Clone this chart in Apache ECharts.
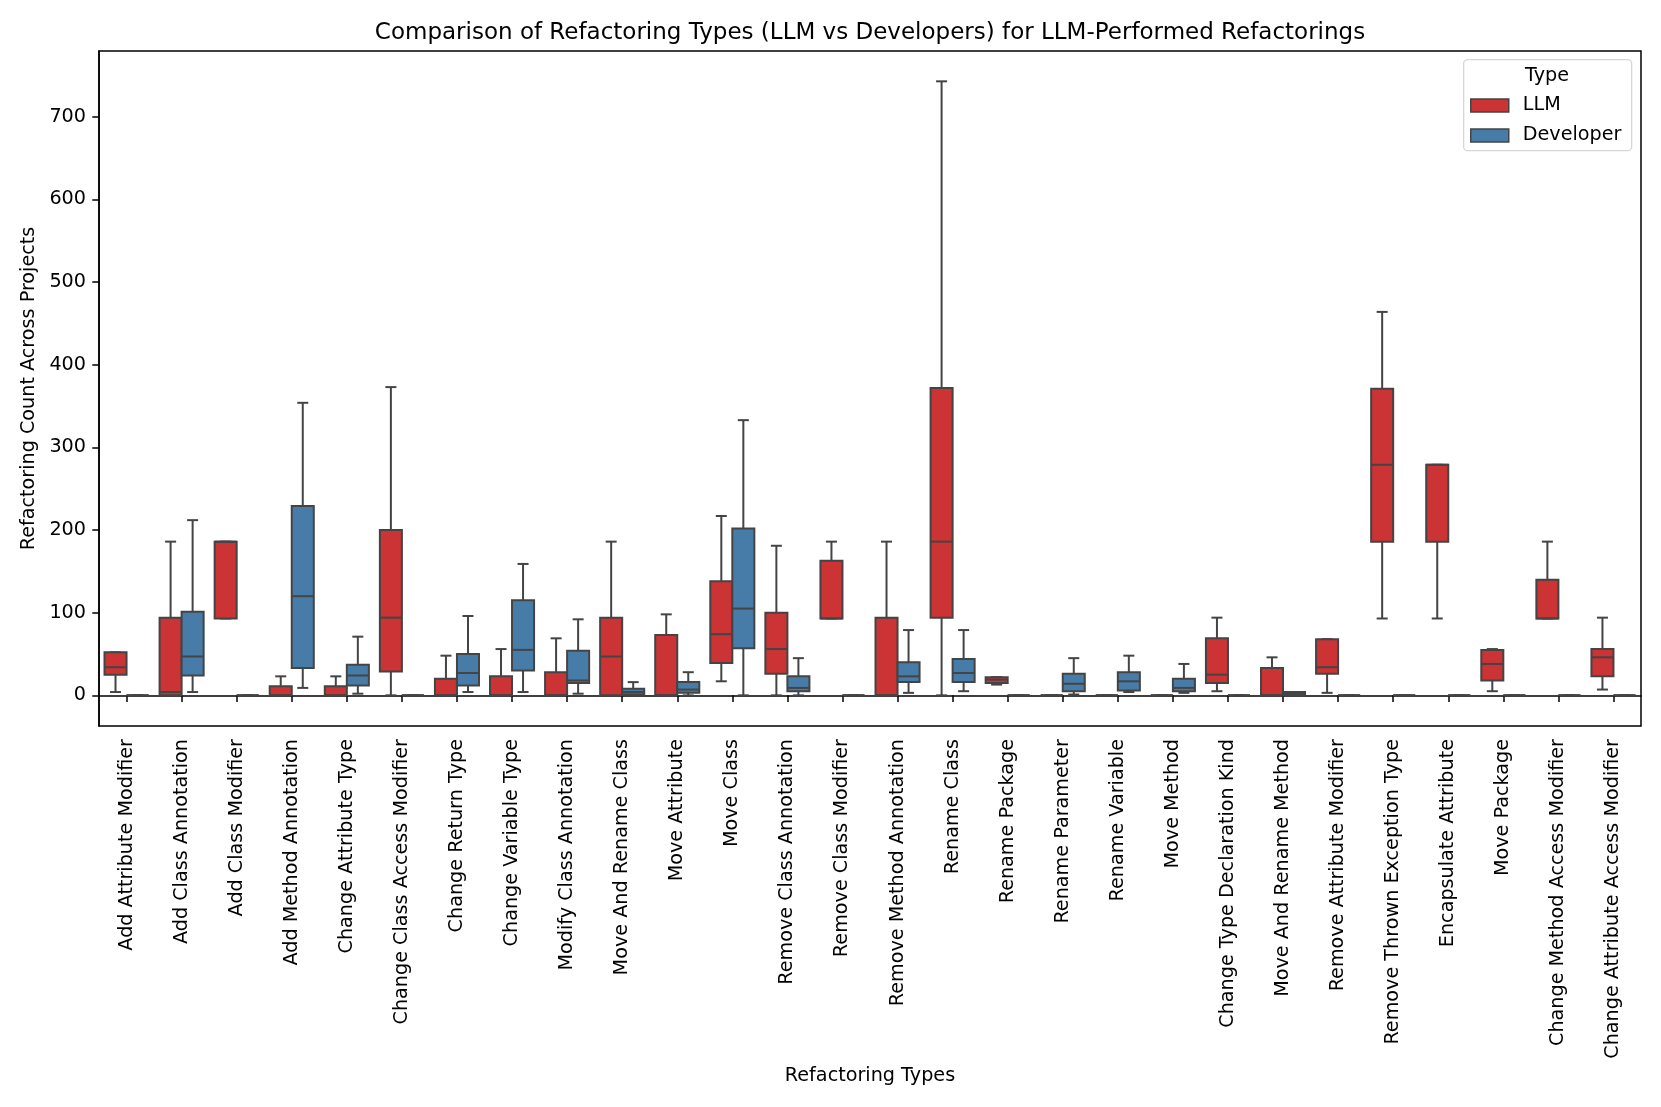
<!DOCTYPE html>
<html>
<head>
<meta charset="utf-8">
<script src="https://cdn.jsdelivr.net/npm/echarts@6/dist/echarts.min.js"></script>
<style>
html, body { margin: 0; padding: 0; background: #fff; }
#chart { width: 1661px; height: 1107px; }
</style>
</head>
<body>
<div id="chart"></div>
<script>
// ---- data ----
const categories = [
  "Add Attribute Modifier", "Add Class Annotation", "Add Class Modifier", "Add Method Annotation",
  "Change Attribute Type", "Change Class Access Modifier", "Change Return Type", "Change Variable Type",
  "Modify Class Annotation", "Move And Rename Class", "Move Attribute", "Move Class",
  "Remove Class Annotation", "Remove Class Modifier", "Remove Method Annotation", "Rename Class",
  "Rename Package", "Rename Parameter", "Rename Variable", "Move Method",
  "Change Type Declaration Kind", "Move And Rename Method", "Remove Attribute Modifier",
  "Remove Thrown Exception Type", "Encapsulate Attribute", "Move Package",
  "Change Method Access Modifier", "Change Attribute Access Modifier"
];
// [min (lower whisker), Q1, median, Q3, max (upper whisker)]
const llmBoxes = [
  [4, 25, 34, 52, 52],
  [0, 0, 4, 94, 186],
  [93, 93, 186, 186, 186],
  [0, 0, 0, 11, 23],
  [0, 0, 0, 11, 23],
  [0, 29, 94, 200, 373],
  [0, 0, 0, 20, 48],
  [0, 0, 0, 23, 56],
  [0, 0, 0, 28, 69],
  [0, 0, 47, 94, 186],
  [0, 0, 0, 73, 98],
  [17, 39, 74, 138, 217],
  [0, 26, 56, 100, 181],
  [93, 93, 93, 163, 186],
  [0, 0, 0, 94, 186],
  [0, 94, 186, 372, 743],
  [13, 15, 19, 22, 22],
  [0, 0, 0, 0, 0],
  [0, 0, 0, 0, 0],
  [0, 0, 0, 0, 0],
  [5, 15, 25, 69, 94],
  [0, 0, 0, 33, 46],
  [3, 26, 34, 68, 68],
  [93, 186, 279, 371, 464],
  [93, 186, 279, 279, 279],
  [5, 18, 38, 55, 56],
  [93, 93, 93, 140, 186],
  [7, 23, 46, 56, 94]
];
const devBoxes = [
  [0, 0, 0, 0, 0],
  [4, 24, 47, 101, 212],
  [0, 0, 0, 0, 0],
  [9, 33, 120, 229, 354],
  [2, 12, 24, 37, 71],
  [0, 0, 0, 0, 0],
  [4, 12, 27, 50, 96],
  [4, 30, 55, 115, 159],
  [2, 15, 18, 54, 92],
  [0, 1, 4, 8, 16],
  [0, 3, 7, 16, 28],
  [0, 57, 105, 202, 333],
  [0, 5, 9, 23, 45],
  [0, 0, 0, 0, 0],
  [3, 16, 23, 40, 79],
  [5, 16, 27, 44, 79],
  [0, 0, 0, 0, 0],
  [1, 5, 14, 26, 45],
  [4, 6, 17, 28, 48],
  [3, 5, 9, 20, 38],
  [0, 0, 0, 0, 0],
  [0, 0, 2, 4, 4],
  [0, 0, 0, 0, 0],
  [0, 0, 0, 0, 0],
  [0, 0, 0, 0, 0],
  [0, 0, 0, 0, 0],
  [0, 0, 0, 0, 0],
  [0, 0, 0, 0, 0]
];
const yTicks = [0, 100, 200, 300, 400, 500, 600, 700];
const seriesNames = ["LLM", "Developer"];

// ---- styles ----
const FONT = "DejaVu Sans";
const FS = 19.2;
const RED = "#cb3335";
const BLUE = "#477ca8";
const EDGE = "#444444";
const LW = 2;

function boxRenderer(side, fill) {
  return function (params, api) {
    const cat = api.value(0);
    const band = api.size([1, 0])[0];
    const w = band * 0.4;
    const cx0 = api.coord([cat, 0])[0];
    const xl = side < 0 ? cx0 - w : cx0;
    const xc = xl + w / 2;
    const yMin = api.coord([cat, api.value(1)])[1];
    const yQ1 = api.coord([cat, api.value(2)])[1];
    const yMed = api.coord([cat, api.value(3)])[1];
    const yQ3 = api.coord([cat, api.value(4)])[1];
    const yMax = api.coord([cat, api.value(5)])[1];
    const ls = { stroke: EDGE, lineWidth: LW, fill: null };
    const cw = w / 4;
    return {
      type: "group",
      children: [
        { type: "line", shape: { x1: xc, y1: yMin, x2: xc, y2: yQ1 }, style: ls },
        { type: "line", shape: { x1: xc, y1: yQ3, x2: xc, y2: yMax }, style: ls },
        { type: "line", shape: { x1: xc - cw, y1: yMin, x2: xc + cw, y2: yMin }, style: ls },
        { type: "line", shape: { x1: xc - cw, y1: yMax, x2: xc + cw, y2: yMax }, style: ls },
        { type: "rect", shape: { x: xl, y: yQ3, width: w, height: yQ1 - yQ3 },
          style: { fill: fill, stroke: EDGE, lineWidth: LW } },
        { type: "line", shape: { x1: xl, y1: yMed, x2: xl + w, y2: yMed }, style: ls }
      ]
    };
  };
}

function toSeriesData(boxes) {
  return boxes.map(function (b, i) { return [i].concat(b); });
}

const chart = echarts.init(document.getElementById("chart"), null, { renderer: "canvas" });
const option = {
  backgroundColor: "#ffffff",
  animation: false,
  textStyle: { fontFamily: FONT },
  title: {
    text: "Comparison of Refactoring Types (LLM vs Developers) for LLM-Performed Refactorings",
    left: 870, top: 22, textAlign: "center", padding: 0,
    textStyle: { fontFamily: FONT, fontSize: 23, fontWeight: "normal", color: "#000" }
  },
  grid: { left: 99, right: 20, top: 51, bottom: 381, containLabel: false, outerBoundsMode: "none",
          show: true, borderColor: "#000", borderWidth: 1.5, backgroundColor: "transparent" },
  legend: {
    data: [
      { name: seriesNames[0], icon: "rect", itemStyle: { color: RED, borderColor: EDGE, borderWidth: 1.5 } },
      { name: seriesNames[1], icon: "rect", itemStyle: { color: BLUE, borderColor: EDGE, borderWidth: 1.5 } }
    ],
    orient: "vertical", left: 1470, top: 96, padding: 0,
    itemWidth: 38, itemHeight: 13, itemGap: 11,
    textStyle: { fontFamily: FONT, fontSize: FS, color: "#000", padding: [0, 0, 0, 9] },
    selectedMode: false
  },
  graphic: [
    { type: "rect", left: 1463, top: 59, shape: { width: 168, height: 91, r: 4 },
      style: { fill: "rgba(255,255,255,0.8)", stroke: "#d6d6d6", lineWidth: 1.3 }, z: -1 },
    { type: "text", x: 1547, y: 76,
      style: { text: "Type", fontFamily: FONT, fontSize: FS, fill: "#000", align: "center", verticalAlign: "middle" } }
  ],
  xAxis: {
    type: "category",
    data: categories,
    boundaryGap: true,
    name: "Refactoring Types",
    nameLocation: "middle",
    nameGap: 339,
    nameTextStyle: { fontFamily: FONT, fontSize: FS, color: "#000" },
    axisLine: { show: true, lineStyle: { color: "#000", width: 1.5 } },
    axisTick: { show: true, alignWithLabel: true, interval: 0, length: 6.7, lineStyle: { color: "#000", width: 1.5 } },
    axisLabel: { interval: 0, rotate: 90, margin: 13, fontFamily: FONT, fontSize: FS, color: "#000", hideOverlap: false },
    splitLine: { show: false }
  },
  yAxis: {
    type: "value",
    min: -37.1,
    max: 779.7,
    name: "Refactoring Count Across Projects",
    nameLocation: "middle",
    nameRotate: 90,
    nameGap: 59,
    nameTextStyle: { fontFamily: FONT, fontSize: FS, color: "#000" },
    axisLine: { show: true, lineStyle: { color: "#000", width: 1.5 } },
    axisTick: { show: true, length: 6.7, customValues: yTicks, lineStyle: { color: "#000", width: 1.5 } },
    axisLabel: { margin: 13, customValues: yTicks, fontFamily: FONT, fontSize: FS, color: "#000" },
    splitLine: { show: false }
  },
  series: [
    {
      name: seriesNames[0], type: "custom",
      renderItem: boxRenderer(-1, RED),
      itemStyle: { color: RED, borderColor: EDGE },
      encode: { x: 0, y: [1, 2, 3, 4, 5] },
      data: toSeriesData(llmBoxes),
      clip: true
    },
    {
      name: seriesNames[1], type: "custom",
      renderItem: boxRenderer(1, BLUE),
      itemStyle: { color: BLUE, borderColor: EDGE },
      encode: { x: 0, y: [1, 2, 3, 4, 5] },
      data: toSeriesData(devBoxes),
      clip: true
    }
  ]
};
chart.setOption(option);
</script>
</body>
</html>
